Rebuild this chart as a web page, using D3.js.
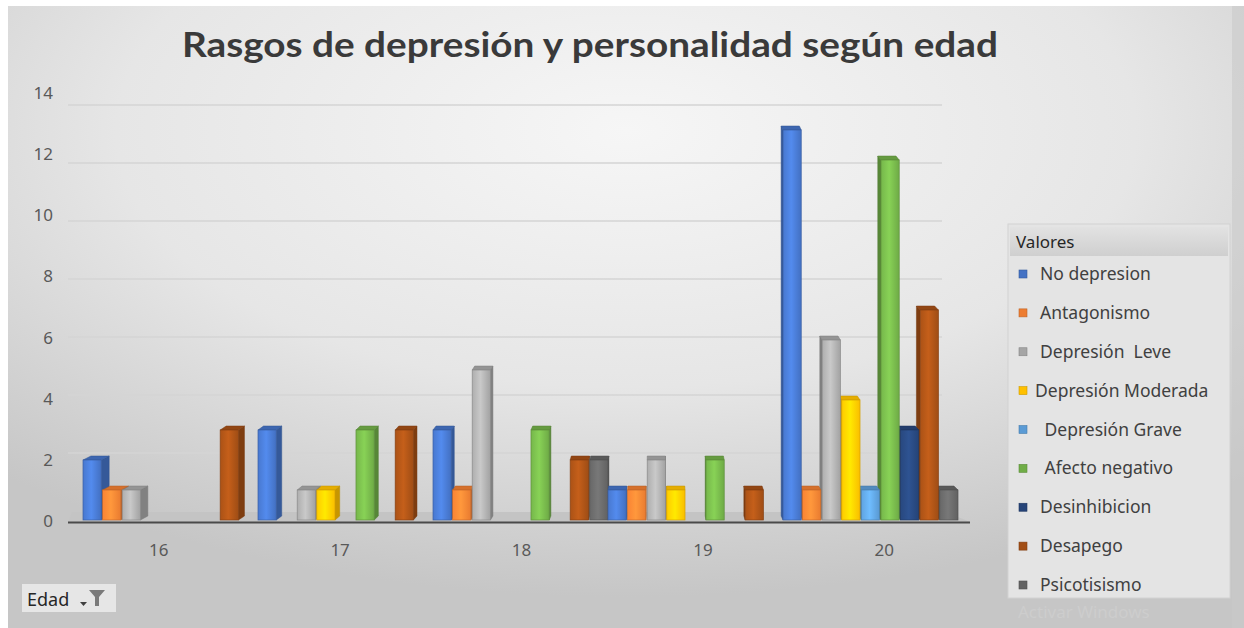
<!DOCTYPE html>
<html><head><meta charset="utf-8">
<script src="https://cdn.jsdelivr.net/npm/d3@7"></script>
<style>
html,body{margin:0;padding:0;background:#fff;}
svg{display:block;}
text{white-space:pre;}
</style></head>
<body>
<svg id="chart" width="1244" height="628"></svg>
<script>
// ---- data ----
const categories = ["16", "17", "18", "19", "20"];
const seriesNames = ["No depresion", "Antagonismo", "Depresión  Leve", "Depresión Moderada", " Depresión Grave", " Afecto negativo", "Desinhibicion", "Desapego", "Psicotisismo"];
const noDepresion   = [2, 3, 3, 1, 13];
const antagonismo   = [1, 0, 1, 1, 1];
const depLeve       = [1, 1, 5, 2, 6];
const depModerada   = [0, 1, 0, 1, 4];
const depGrave      = [0, 0, 0, 0, 1];
const afectoNegativo= [0, 3, 3, 2, 12];
const desinhibicion = [0, 0, 0, 0, 3];
const desapego      = [3, 3, 2, 1, 7];
const psicotisismo  = [0, 0, 2, 0, 1];
const seriesValues = [noDepresion, antagonismo, depLeve, depModerada, depGrave, afectoNegativo, desinhibicion, desapego, psicotisismo];
const seriesColors = ["#4472C4", "#ED7D31", "#A5A5A5", "#FFC000", "#5B9BD5", "#70AD47", "#264478", "#A24E15", "#636363"];
const yTicks = [0, 2, 4, 6, 8, 10, 12, 14];
const titleText = "Rasgos de depresión y personalidad según edad";

// ---- setup ----
const svg = d3.select("#chart");
const defs = svg.append("defs");

const bg = defs.append("radialGradient").attr("id", "bg").attr("cx", "0.5").attr("cy", "0.2").attr("r", "0.75");
bg.append("stop").attr("offset", "0%").attr("stop-color", "#f6f6f6");
bg.append("stop").attr("offset", "55%").attr("stop-color", "#e6e6e6");
bg.append("stop").attr("offset", "100%").attr("stop-color", "#c6c6c6");

svg.append("rect").attr("width", 1244).attr("height", 628).attr("fill", "#ffffff");
svg.append("rect").attr("x", 8).attr("y", 6).attr("width", 1236).attr("height", 622).attr("fill", "url(#bg)");
svg.append("rect").attr("x", 1232).attr("y", 6).attr("width", 12).attr("height", 622).attr("fill", "#cacaca").attr("opacity", 0.6);

// scales
const xAxisScale = d3.scaleBand().domain(categories).range([68, 975]);
const xGroup = d3.scaleBand().domain(categories).range([83, 958]);
const xSlot = d3.scaleBand().domain(seriesNames).range([0, xGroup.bandwidth()]).paddingInner(0.07);
const yBar = d3.scaleLinear().domain([0, 14]).range([520, 100]);
const yLabel = d3.scaleLinear().domain([0, 14]).range([521, 93]);
const yWall = d3.scaleLinear().domain([0, 14]).range([511, 105]);

// gridlines (back wall)
svg.append("g").selectAll("line").data(yTicks.filter(t => t > 0)).join("line")
  .attr("x1", 68).attr("x2", 942)
  .attr("y1", d => yWall(d)).attr("y2", d => yWall(d))
  .attr("stroke", "#d4d4d4").attr("stroke-width", 1.5);

// y axis labels
const yAxis = d3.axisLeft(yLabel).tickValues(yTicks).tickSize(0).tickPadding(0);
const yg = svg.append("g").attr("transform", "translate(53,0)").call(yAxis);
yg.select(".domain").remove();
yg.selectAll("text").attr("font-family", "'Noto Sans', sans-serif").attr("font-size", 17).attr("fill", "#595959");

// floor
svg.append("path")
  .attr("d", d3.line()([[68, 522], [970, 522], [946, 512], [72, 512]]) + "Z")
  .attr("fill", "#c4c4c4");
svg.append("line").attr("x1", 68).attr("x2", 970).attr("y1", 522.5).attr("y2", 522.5)
  .attr("stroke", "#4a4a4a").attr("stroke-width", 2);

// x axis labels
const xAxis = d3.axisBottom(xAxisScale).tickSize(0).tickPadding(0);
const xg = svg.append("g").attr("transform", "translate(0,544)").call(xAxis);
xg.select(".domain").remove();
xg.selectAll("text").attr("font-family", "'Noto Sans', sans-serif").attr("font-size", 17).attr("fill", "#595959");

// gradients per series
seriesColors.forEach((c, i) => {
  const g = defs.append("linearGradient").attr("id", "front" + i).attr("x1", "0").attr("x2", "1").attr("y1", "0").attr("y2", "0");
  const base = d3.color(c);
  g.append("stop").attr("offset", "0%").attr("stop-color", base.brighter(0.15));
  g.append("stop").attr("offset", "45%").attr("stop-color", base.brighter(0.55));
  g.append("stop").attr("offset", "100%").attr("stop-color", base.darker(0.05));
});

// bars
const viewX = 660, depthK = 0.014, depthY = 4;
const bars = [];
seriesValues.forEach((vals, si) => {
  vals.forEach((v, ci) => {
    if (v > 0) bars.push({ si, ci, v, name: seriesNames[si], cat: categories[ci] });
  });
});
bars.forEach(b => {
  b.x0 = xGroup(b.cat) + xSlot(b.name);
  b.w = xSlot.bandwidth();
  b.xc = b.x0 + b.w / 2;
  b.dx = (viewX - b.xc) * depthK;
});
bars.sort((a, b) => Math.abs(b.xc - viewX) - Math.abs(a.xc - viewX));

const barG = svg.append("g");
bars.forEach(b => {
  const base = d3.color(seriesColors[b.si]);
  const yt = yBar(b.v), yb = yBar(0);
  const x0 = b.x0, x1 = b.x0 + b.w, dx = b.dx, dy = depthY;
  const g = barG.append("g");
  const side = dx >= 0
    ? [[x1, yt], [x1 + dx, yt - dy], [x1 + dx, yb - dy], [x1, yb]]
    : [[x0, yt], [x0 + dx, yt - dy], [x0 + dx, yb - dy], [x0, yb]];
  g.append("path").attr("d", d3.line()(side) + "Z")
    .attr("fill", base.darker(0.7)).attr("stroke", base.darker(0.9)).attr("stroke-width", 0.5);
  const top = [[x0, yt], [x0 + dx, yt - dy], [x1 + dx, yt - dy], [x1, yt]];
  g.append("path").attr("d", d3.line()(top) + "Z")
    .attr("fill", base.darker(0.3)).attr("stroke", base.darker(0.8)).attr("stroke-width", 0.5);
  g.append("rect").attr("x", x0).attr("y", yt).attr("width", b.w).attr("height", yb - yt)
    .attr("fill", `url(#front${b.si})`).attr("stroke", base.darker(0.5)).attr("stroke-width", 0.7);
});

// title
svg.append("text").attr("x", 590).attr("y", 57).attr("text-anchor", "middle")
  .attr("font-family", "Lato, 'Open Sans', sans-serif").attr("font-weight", "bold")
  .attr("font-size", 34).attr("fill", "#3a3a3a")
  .attr("textLength", 816).attr("lengthAdjust", "spacingAndGlyphs")
  .text(titleText);

// legend
const lg = svg.append("g");
lg.append("rect").attr("x", 1008).attr("y", 224).attr("width", 222).attr("height", 374)
  .attr("fill", "#e4e4e4").attr("stroke", "#d2d2d2");
const hg = defs.append("linearGradient").attr("id", "hdr").attr("x1", 0).attr("x2", 0).attr("y1", 0).attr("y2", 1);
hg.append("stop").attr("offset", "0%").attr("stop-color", "#e2e2e2");
hg.append("stop").attr("offset", "100%").attr("stop-color", "#cfcfcf");
lg.append("rect").attr("x", 1010).attr("y", 227).attr("width", 218).attr("height", 29).attr("fill", "url(#hdr)");
lg.append("text").attr("x", 1016).attr("y", 248).text("Valores")
  .attr("font-family", "'Noto Sans', sans-serif").attr("font-size", 17).attr("fill", "#262626");
const legendY = d3.scalePoint().domain(seriesNames).range([274, 585]);
const items = lg.selectAll("g.item").data(seriesNames).join("g").attr("class", "item")
  .attr("transform", d => `translate(0,${legendY(d)})`);
items.append("rect").attr("x", 1019).attr("y", -4).attr("width", 8).attr("height", 8)
  .attr("fill", (d, i) => seriesColors[i]).attr("stroke", (d, i) => d3.color(seriesColors[i]).darker(0.6)).attr("stroke-width", 0.6);
items.append("text").attr("x", (d, i) => i === 3 ? 1035 : 1040).attr("y", 6).text(d => d)
  .attr("font-family", "'Noto Sans', sans-serif").attr("font-size", 17.5).attr("fill", "#404040");

// Edad field button
const eb = svg.append("g");
eb.append("rect").attr("x", 22).attr("y", 584).attr("width", 94).attr("height", 28).attr("fill", "#e6e6e6");
eb.append("text").attr("x", 27).attr("y", 606).text("Edad")
  .attr("font-family", "'Noto Sans', sans-serif").attr("font-size", 18).attr("fill", "#262626");
eb.append("path").attr("d", "M80,602 L87,602 L83.5,606 Z").attr("fill", "#404040");
eb.append("path").attr("d", "M89,590 L105,590 L99,597 L99,606 L95,606 L95,597 Z").attr("fill", "#7a7a7a");

// watermark
svg.append("text").attr("x", 1018).attr("y", 618).text("Activar Windows")
  .attr("font-family", "'Noto Sans', sans-serif").attr("font-size", 17).attr("fill", "#cdcdcd");
</script>
</body></html>
